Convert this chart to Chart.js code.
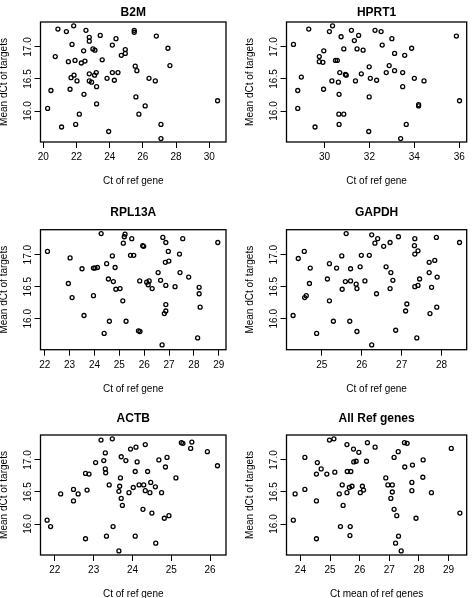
<!DOCTYPE html>
<html lang="en">
<head>
<meta charset="UTF-8">
<title>Mean dCt of targets vs Ct of ref genes</title>
<script src="https://cdn.jsdelivr.net/npm/chart.js"></script>
<style>
    body { margin: 0; background: #fff; }
    .grid { position: relative; width: 472px; height: 598px; overflow: hidden; background: #fff; }
    .grid canvas { position: absolute; }
</style>
</head>
<body>
<div class="grid" id="grid"></div>

<script>
    // values (x = Ct of the reference, y = mean dCt of targets)
    const b2mX = [20.88,21.39,21.83,22.57,22.77,22.77,23.43,24.38,25.48,25.48,26.81,21.73,24.16,27.51,20.72,22.43,22.99,23.11,24.94,24.94,24.70,21.51,21.91,22.29,22.51,23.55,25.54,25.64,27.63,21.85,21.67,22.03,22.77,23.09,23.19,22.77,22.91,23.84,24.16,24.50,24.28,26.37,26.75,20.46,21.61,23.21,22.45,23.21,25.58,26.14,30.50,20.26,22.17,25.76,21.10,21.95,23.94,27.09,27.09];
    const b2mY = [17.28,17.24,17.33,17.26,17.15,17.09,17.18,17.13,17.26,17.23,17.17,17.04,17.03,16.98,16.85,16.94,16.97,16.95,16.96,16.90,16.87,16.77,16.79,16.75,16.78,16.80,16.70,16.63,16.71,16.56,16.52,16.47,16.58,16.56,16.60,16.47,16.45,16.51,16.60,16.60,16.48,16.51,16.47,16.32,16.34,16.38,16.26,16.11,16.22,16.08,16.16,16.04,15.95,15.95,15.75,15.79,15.68,15.79,15.57];

    const hprt1X = [28.62,29.30,30.22,30.36,30.74,31.20,31.33,31.52,32.25,32.52,32.57,33.00,35.87,29.97,29.77,29.77,29.93,30.49,30.57,30.86,31.45,31.72,33.12,33.57,33.88,31.99,32.88,30.68,30.93,30.97,31.64,32.75,33.12,33.48,28.97,30.33,30.62,31.38,32.04,32.32,34.00,34.43,28.81,29.96,30.65,33.48,31.99,34.19,34.19,36.01,28.81,30.64,30.86,29.58,30.65,33.64,31.97,33.39];
    const hprt1Y = [17.04,17.28,17.24,17.33,17.16,17.26,17.10,17.18,17.26,17.24,17.03,17.13,17.17,16.94,16.85,16.77,16.76,16.79,16.79,16.97,16.97,16.95,16.90,16.87,16.98,16.69,16.71,16.60,16.57,16.56,16.58,16.60,16.63,16.60,16.53,16.47,16.45,16.47,16.51,16.48,16.51,16.47,16.32,16.34,16.26,16.38,16.22,16.10,16.08,16.16,16.04,15.95,15.95,15.75,15.79,15.79,15.68,15.57];

    const rpl13aX = [22.11,24.27,25.23,25.20,25.50,25.16,26.75,26.87,27.55,28.96,25.94,25.98,26.97,27.42,23.02,24.72,25.45,25.58,26.99,26.85,24.49,23.50,23.96,24.02,24.12,24.83,26.56,27.44,27.79,24.56,24.76,25.82,26.20,26.10,26.16,26.32,26.66,26.87,27.24,28.21,28.21,22.95,24.86,25.03,23.10,23.96,25.14,26.87,28.25,26.87,26.81,23.58,24.60,25.27,25.77,25.83,24.39,28.15,26.72];
    const rpl13aY = [17.05,17.33,17.32,17.28,17.25,17.18,17.27,17.19,17.25,17.19,17.14,17.13,17.05,17.01,16.95,16.98,16.99,16.99,16.90,16.88,16.86,16.78,16.79,16.79,16.80,16.80,16.72,16.72,16.65,16.62,16.58,16.59,16.59,16.57,16.53,16.47,16.60,16.52,16.50,16.49,16.39,16.55,16.46,16.47,16.33,16.36,16.28,16.22,16.18,16.12,16.08,16.05,15.96,15.96,15.81,15.80,15.77,15.70,15.59];

    const gapdhX = [24.28,24.41,24.56,24.57,24.61,24.69,24.71,24.87,25.14,25.19,25.19,25.29,25.37,25.50,25.51,25.59,25.61,25.72,25.72,25.70,25.86,25.88,25.88,25.96,25.99,26.08,26.19,26.25,26.33,26.40,26.37,26.25,26.55,26.61,26.71,26.73,26.71,26.78,26.92,26.85,27.13,27.10,27.33,27.32,27.33,27.41,27.33,27.41,27.45,27.38,27.69,27.69,27.75,27.83,27.87,27.89,27.71,27.88,28.45];
    const gapdhY = [16.05,16.94,17.05,16.33,16.36,16.55,16.79,15.77,16.62,16.86,16.28,15.96,16.79,16.98,16.46,16.58,17.33,16.59,16.78,15.96,16.54,16.47,15.80,16.81,16.99,16.59,16.99,17.31,17.18,17.25,16.39,15.59,17.13,16.81,17.19,16.72,16.47,16.60,17.28,15.82,16.23,16.12,17.25,17.14,17.01,17.06,16.50,16.52,16.62,15.70,16.88,16.72,16.49,16.91,17.27,16.65,16.08,16.18,17.19];

    const actbX = [21.80,21.89,22.15,22.48,22.48,22.60,22.83,22.79,22.88,22.79,23.05,23.19,23.26,23.30,23.30,23.31,23.33,23.40,23.48,23.50,23.65,23.69,23.67,23.71,23.71,23.74,23.83,23.65,23.91,23.95,24.02,24.07,24.09,24.12,24.07,24.17,24.29,24.27,24.33,24.33,24.39,24.45,24.47,24.50,24.59,24.60,24.68,24.75,24.82,24.85,24.89,24.94,25.12,25.26,25.30,25.50,25.53,25.93,26.19];
    const actbY = [16.06,15.96,16.47,16.54,16.36,16.47,16.53,16.79,16.78,15.77,16.96,17.31,16.99,17.11,16.86,16.80,15.81,16.61,17.33,15.96,16.51,16.72,16.59,17.05,16.40,16.29,16.99,15.58,16.49,17.17,16.57,16.82,17.20,16.97,15.81,16.61,16.61,16.23,17.24,16.52,16.82,16.49,16.65,16.17,16.58,15.70,17.00,16.49,16.09,16.89,17.04,16.13,16.72,17.27,17.26,17.18,17.28,17.13,16.91];

    const allRefX = [23.76,23.82,24.15,24.15,24.54,24.54,24.57,24.70,24.54,24.89,24.98,25.13,25.16,25.31,25.35,25.41,25.44,25.58,25.57,25.57,25.68,25.67,25.70,25.65,25.74,25.79,25.80,25.88,25.97,26.02,26.09,26.13,26.23,26.26,26.52,26.88,26.95,27.10,27.10,27.05,27.16,27.16,27.25,27.21,27.30,27.31,27.40,27.51,27.60,27.52,27.78,27.76,27.76,27.90,28.14,28.13,28.42,29.09,29.38];
    const allRefY = [16.06,16.47,16.54,17.04,16.36,16.78,16.96,16.86,15.77,16.78,17.31,17.33,16.81,16.47,15.96,16.61,16.29,16.82,17.24,16.49,15.96,15.82,16.82,16.57,16.59,17.17,16.97,16.98,17.12,16.49,16.59,16.53,16.98,17.27,17.20,16.72,16.61,16.61,16.50,16.40,17.04,16.23,16.13,15.70,17.13,15.81,15.58,17.27,17.26,16.89,16.92,16.65,16.52,16.09,17.00,16.73,16.49,17.18,16.17];

    // tick labels
    const b2mTicks = [20, 22, 24, 26, 28, 30];
    const hprt1Ticks = [30, 32, 34, 36];
    const rpl13aTicks = [22, 23, 24, 25, 26, 27, 28, 29];
    const gapdhTicks = [25, 26, 27, 28];
    const actbTicks = [22, 23, 24, 25, 26];
    const allRefTicks = [24, 25, 26, 27, 28, 29];
    const dctTicks = [16.0, 16.5, 17.0];

    const FONT = '"Liberation Sans", Arial, Helvetica, sans-serif';
    Chart.defaults.font.family = FONT;
    Chart.defaults.color = '#000';

    // width of a y tick label, used to centre the rotated labels
    const mctx = document.createElement('canvas').getContext('2d');
    mctx.font = '10px ' + FONT;
    const yLabelW = mctx.measureText('16.5').width;

    // panel geometry (plot box inside each 236px wide cell)
    const rows = [
        {top: 0, h: 200, boxTop: 22, boxBottom: 142, titleMid: 12.5},
        {top: 200, h: 200, boxTop: 29.7, boxBottom: 149.7, titleMid: 13},
        {top: 400, h: 198, boxTop: 35, boxBottom: 155, titleMid: 18.7}
    ];
    const cols = [
        {left: 0, boxLeft: 40.5, boxRight: 226},
        {left: 236, boxLeft: 50.5, boxRight: 235}
    ];

    const panels = [
        {title: 'B2M', xTitle: 'Ct of ref gene', xs: b2mX, ys: b2mY, ticks: b2mTicks, min: 19.83, max: 31.01, row: 0, col: 0},
        {title: 'HPRT1', xTitle: 'Ct of ref gene', xs: hprt1X, ys: hprt1Y, ticks: hprt1Ticks, min: 28.31, max: 36.33, row: 0, col: 1},
        {title: 'RPL13A', xTitle: 'Ct of ref gene', xs: rpl13aX, ys: rpl13aY, ticks: rpl13aTicks, min: 21.83, max: 29.29, row: 1, col: 0},
        {title: 'GAPDH', xTitle: 'Ct of ref gene', xs: gapdhX, ys: gapdhY, ticks: gapdhTicks, min: 24.115, max: 28.63, row: 1, col: 1},
        {title: 'ACTB', xTitle: 'Ct of ref gene', xs: actbX, ys: actbY, ticks: actbTicks, min: 21.63, max: 26.41, row: 2, col: 0},
        {title: 'All Ref genes', xTitle: 'Ct mean of ref genes', xs: allRefX, ys: allRefY, ticks: allRefTicks, min: 23.53, max: 29.61, row: 2, col: 1}
    ];

    // R style box round the plot region
    const boxPlugin = {
        id: 'box',
        afterDraw(chart) {
            const {ctx, chartArea: a} = chart;
            ctx.save();
            ctx.strokeStyle = '#000';
            ctx.lineWidth = 1.3;
            ctx.strokeRect(a.left, a.top, a.right - a.left, a.bottom - a.top);
            ctx.restore();
        }
    };

    const grid = document.getElementById('grid');

    panels.forEach(p => {
        const row = rows[p.row];
        const col = cols[p.col];
        const canvas = document.createElement('canvas');
        canvas.width = 236;
        canvas.height = row.h;
        canvas.style.left = col.left + 'px';
        canvas.style.top = row.top + 'px';
        canvas.style.width = '236px';
        canvas.style.height = row.h + 'px';
        grid.appendChild(canvas);

        const points = p.xs.map((x, i) => ({x: x, y: p.ys[i]}));

        new Chart(canvas.getContext('2d'), {
            type: 'scatter',
            data: {
                datasets: [{
                    data: points,
                    pointStyle: 'circle',
                    pointRadius: 2,
                    pointBorderWidth: 1.3,
                    borderColor: '#000',
                    backgroundColor: 'rgba(0,0,0,0)'
                }]
            },
            options: {
                responsive: false,
                animation: false,
                devicePixelRatio: 1,
                layout: {padding: {left: 0, right: 236 - col.boxRight, top: 0, bottom: 0}},
                plugins: {
                    legend: {display: false},
                    tooltip: {enabled: false},
                    title: {
                        display: true,
                        text: p.title,
                        fullSize: false,
                        color: '#000',
                        font: {size: 12, weight: 'bold'},
                        padding: {top: row.titleMid - 7.2, bottom: row.boxTop - row.titleMid - 7.2}
                    }
                },
                scales: {
                    x: {
                        type: 'linear',
                        position: 'bottom',
                        min: p.min,
                        max: p.max,
                        afterBuildTicks: s => { s.ticks = p.ticks.map(v => ({value: v})); },
                        afterFit: s => { s.height = row.h - row.boxBottom; },
                        grid: {drawOnChartArea: false, drawTicks: true, tickLength: 6, color: '#000', lineWidth: 1},
                        border: {display: false},
                        ticks: {autoSkip: false, maxRotation: 0, padding: 3.5, font: {size: 10}, color: '#000',
                            callback: v => String(v)},
                        title: {display: true, text: p.xTitle, color: '#000', font: {size: 10},
                            padding: {top: 0, bottom: row.h - row.boxBottom - 39.5 - 6}}
                    },
                    y: {
                        type: 'linear',
                        position: 'left',
                        min: 15.516,
                        max: 17.39,
                        afterBuildTicks: s => { s.ticks = dctTicks.map(v => ({value: v})); },
                        afterFit: s => { s.width = col.boxLeft; },
                        grid: {drawOnChartArea: false, drawTicks: true, tickLength: 6, color: '#000', lineWidth: 1},
                        border: {display: false},
                        ticks: {autoSkip: false, minRotation: 90, maxRotation: 90, crossAlign: 'center',
                            padding: 6 - yLabelW / 2, font: {size: 10}, color: '#000',
                            callback: v => v.toFixed(1)},
                        title: {display: true, text: 'Mean dCt of targets', color: '#000', font: {size: 10},
                            padding: {top: col.boxLeft - 36 - 6, bottom: 0}}
                    }
                }
            },
            plugins: [boxPlugin]
        });
    });
</script>
</body>
</html>
